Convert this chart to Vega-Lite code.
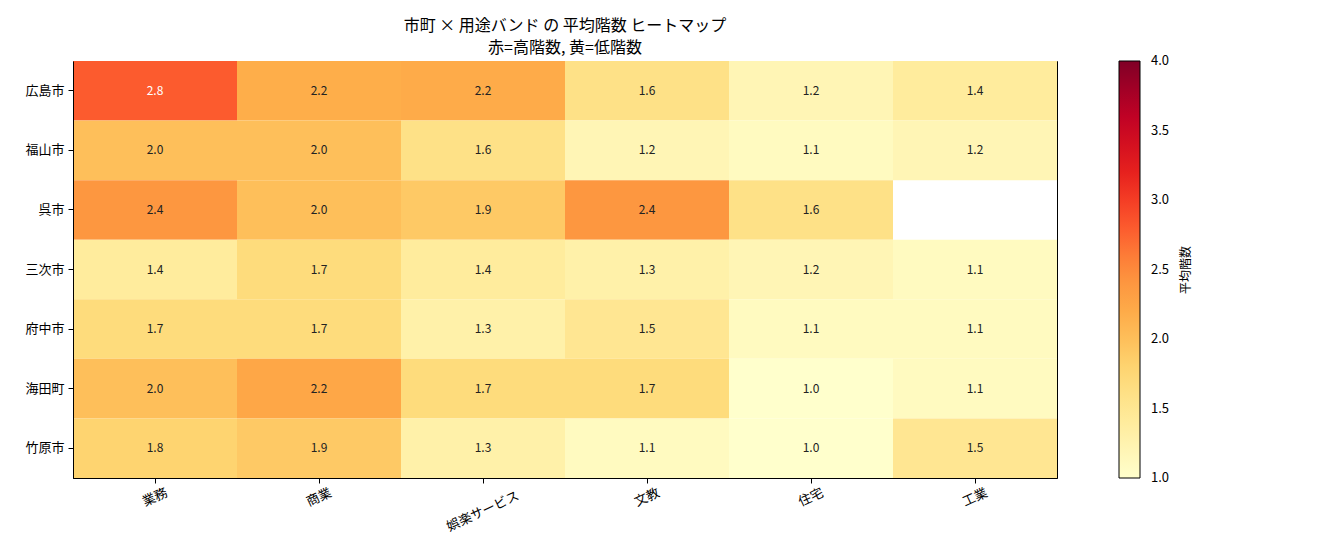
{
  "$schema": "https://vega.github.io/schema/vega-lite/v6.json",
  "description": "市町 × 用途バンド の 平均階数 ヒートマップ",
  "autosize": "none",
  "padding": {"left": 73, "top": 61, "right": 263, "bottom": 72},
  "width": 984,
  "height": 417,
  "title": {
    "text": ["市町 × 用途バンド の 平均階数 ヒートマップ", "赤=高階数, 黄=低階数"],
    "anchor": "middle",
    "frame": "group",
    "fontSize": 16,
    "fontWeight": "normal",
    "font": "Noto Sans CJK JP",
    "color": "#000000",
    "lineHeight": 22,
    "offset": 5
  },
  "config": {
    "font": "Noto Sans CJK JP",
    "view": {"stroke": "#000000", "strokeWidth": 1},
    "axis": {
      "domainColor": "#000000",
      "tickColor": "#000000",
      "labelColor": "#000000",
      "labelFontSize": 13,
      "tickSize": 5,
      "grid": false
    }
  },
  "data": {
    "values": [
      {"city": "広島市", "use": "業務", "floors": 2.8},
      {"city": "広島市", "use": "商業", "floors": 2.17},
      {"city": "広島市", "use": "娯楽サービス", "floors": 2.2},
      {"city": "広島市", "use": "文教", "floors": 1.6},
      {"city": "広島市", "use": "住宅", "floors": 1.2},
      {"city": "広島市", "use": "工業", "floors": 1.4},
      {"city": "福山市", "use": "業務", "floors": 2.0},
      {"city": "福山市", "use": "商業", "floors": 2.0},
      {"city": "福山市", "use": "娯楽サービス", "floors": 1.6},
      {"city": "福山市", "use": "文教", "floors": 1.2},
      {"city": "福山市", "use": "住宅", "floors": 1.1},
      {"city": "福山市", "use": "工業", "floors": 1.2},
      {"city": "呉市", "use": "業務", "floors": 2.4},
      {"city": "呉市", "use": "商業", "floors": 2.0},
      {"city": "呉市", "use": "娯楽サービス", "floors": 1.9},
      {"city": "呉市", "use": "文教", "floors": 2.4},
      {"city": "呉市", "use": "住宅", "floors": 1.6},
      {"city": "三次市", "use": "業務", "floors": 1.4},
      {"city": "三次市", "use": "商業", "floors": 1.7},
      {"city": "三次市", "use": "娯楽サービス", "floors": 1.4},
      {"city": "三次市", "use": "文教", "floors": 1.3},
      {"city": "三次市", "use": "住宅", "floors": 1.2},
      {"city": "三次市", "use": "工業", "floors": 1.1},
      {"city": "府中市", "use": "業務", "floors": 1.7},
      {"city": "府中市", "use": "商業", "floors": 1.7},
      {"city": "府中市", "use": "娯楽サービス", "floors": 1.3},
      {"city": "府中市", "use": "文教", "floors": 1.5},
      {"city": "府中市", "use": "住宅", "floors": 1.1},
      {"city": "府中市", "use": "工業", "floors": 1.1},
      {"city": "海田町", "use": "業務", "floors": 2.0},
      {"city": "海田町", "use": "商業", "floors": 2.24},
      {"city": "海田町", "use": "娯楽サービス", "floors": 1.7},
      {"city": "海田町", "use": "文教", "floors": 1.7},
      {"city": "海田町", "use": "住宅", "floors": 1.0},
      {"city": "海田町", "use": "工業", "floors": 1.1},
      {"city": "竹原市", "use": "業務", "floors": 1.8},
      {"city": "竹原市", "use": "商業", "floors": 1.9},
      {"city": "竹原市", "use": "娯楽サービス", "floors": 1.3},
      {"city": "竹原市", "use": "文教", "floors": 1.1},
      {"city": "竹原市", "use": "住宅", "floors": 1.0},
      {"city": "竹原市", "use": "工業", "floors": 1.5}
    ]
  },
  "encoding": {
    "x": {
      "field": "use",
      "type": "nominal",
      "sort": ["業務", "商業", "娯楽サービス", "文教", "住宅", "工業"],
      "scale": {"paddingInner": 0, "paddingOuter": 0},
      "axis": {
        "title": null,
        "labelAngle": -25,
        "labelAlign": "center",
        "labelBaseline": "middle",
        "labelPadding": {"condition": {"test": "datum.value === '娯楽サービス'", "value": 28}, "value": 14}
      }
    },
    "y": {
      "field": "city",
      "type": "nominal",
      "sort": ["広島市", "福山市", "呉市", "三次市", "府中市", "海田町", "竹原市"],
      "scale": {"paddingInner": 0, "paddingOuter": 0},
      "axis": {"title": null, "labelPadding": 4}
    }
  },
  "layer": [
    {
      "mark": {"type": "rect"},
      "encoding": {
        "color": {
          "field": "floors",
          "type": "quantitative",
          "scale": {
            "domain": [1, 1.375, 1.75, 2.125, 2.5, 2.875, 3.25, 3.625, 4],
            "range": ["#ffffcc", "#ffeda0", "#fed976", "#feb24c", "#fd8d3c", "#fc4e2a", "#e31a1c", "#bd0026", "#800026"],
            "interpolate": "rgb"
          },
          "legend": {
            "title": "平均階数",
            "orient": "none",
            "legendX": 1046,
            "legendY": 0,
            "direction": "vertical",
            "gradientLength": 417,
            "gradientThickness": 21,
            "gradientStrokeColor": "#000000",
            "gradientStrokeWidth": 1,
            "values": [1, 1.5, 2, 2.5, 3, 3.5, 4],
            "format": ".1f",
            "labelFontSize": 13,
            "labelColor": "#000000",
            "labelOffset": 11,
            "labelOverlap": false,
            "titleOrient": "right",
            "titleAnchor": "middle",
            "titleFontSize": 12,
            "titleFontWeight": "normal",
            "titleColor": "#000000",
            "titlePadding": 12,
            "padding": 0,
            "encode": {
              "title": {"update": {"angle": {"value": -90}, "baseline": {"value": "top"}}},
              "labels": {"update": {"baseline": {"value": "middle"}}}
            }
          }
        }
      }
    },
    {
      "mark": {"type": "text", "fontSize": 12},
      "encoding": {
        "text": {"field": "floors", "type": "quantitative", "format": ".1f"},
        "color": {
          "condition": {"test": "datum.floors > 2.5", "value": "#ffffff"},
          "value": "#222222"
        }
      }
    }
  ]
}
